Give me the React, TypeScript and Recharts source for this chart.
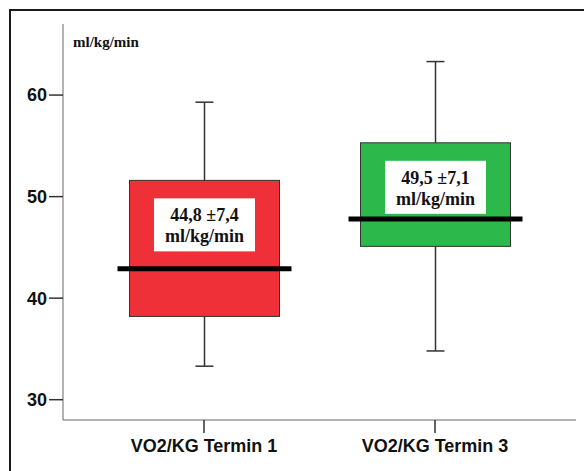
import React from "react";
import { Bar, ComposedChart, XAxis, YAxis } from "recharts";

// values
const categories = ["VO2/KG Termin 1", "VO2/KG Termin 3"];
const whiskerLow = [33.3, 34.8];
const lowerQuartile = [38.2, 45.1];
const medians = [42.9, 47.8];
const upperQuartile = [51.6, 55.3];
const whiskerHigh = [59.3, 63.3];
const meanLabels = ["44,8 ±7,4", "49,5 ±7,1"];
const unitLabel = "ml/kg/min";
const boxColors = ["#EF3039", "#2CB84B"];
const yTicks = [30, 40, 50, 60];

const data = categories.map((name, i) => ({
  name,
  box: [lowerQuartile[i], upperQuartile[i]],
  low: whiskerLow[i],
  q1: lowerQuartile[i],
  median: medians[i],
  q3: upperQuartile[i],
  high: whiskerHigh[i],
  mean: meanLabels[i],
  color: boxColors[i],
}));

const SANS = "'Liberation Sans', Arial, sans-serif";
const SERIF = "'Liberation Serif', 'Times New Roman', serif";

const BoxShape = (props: any) => {
  const { x, y, width, height, payload } = props;
  const top = Math.min(y, y + height);
  const h = Math.abs(height);
  const perUnit = h / (payload.q3 - payload.q1);
  const yOf = (v: number) => top + (payload.q3 - v) * perUnit;
  const cx = x + width / 2;
  const cap = 9;
  const labelW = 101;
  const labelTop = top + 18;

  return (
    <g>
      <line x1={cx} x2={cx} y1={yOf(payload.high)} y2={yOf(payload.low)} stroke="#333" strokeWidth={1.5} />
      <line x1={cx - cap} x2={cx + cap} y1={yOf(payload.high)} y2={yOf(payload.high)} stroke="#333" strokeWidth={1.5} />
      <line x1={cx - cap} x2={cx + cap} y1={yOf(payload.low)} y2={yOf(payload.low)} stroke="#333" strokeWidth={1.5} />
      <rect x={x} y={top} width={width} height={h} fill={payload.color} stroke="#333" strokeWidth={1} />
      <rect x={cx - labelW / 2} y={labelTop} width={labelW} height={53} fill="#fff" />
      <text x={cx} y={labelTop + 23} textAnchor="middle" fontFamily={SERIF} fontWeight="bold" fontSize={18} fill="#111">
        {payload.mean}
      </text>
      <text x={cx} y={labelTop + 44} textAnchor="middle" fontFamily={SERIF} fontWeight="bold" fontSize={18} fill="#111">
        {unitLabel}
      </text>
      <line x1={x - 12} x2={x + width + 12} y1={yOf(payload.median)} y2={yOf(payload.median)} stroke="#000" strokeWidth={5} />
    </g>
  );
};

export default function App() {
  return (
    <div style={{ position: "fixed", left: 0, top: 0, width: 584, height: 471, overflow: "hidden", background: "#fff" }}>
      <div
        style={{
          position: "absolute",
          left: 9,
          top: 9,
          width: 640,
          height: 520,
          borderLeft: "2px solid #1a1a1a",
          borderTop: "2px solid #1a1a1a",
        }}
      />
      <div
        style={{
          position: "absolute",
          left: 73,
          top: 33,
          fontFamily: SERIF,
          fontWeight: "bold",
          fontSize: 15,
          color: "#111",
          lineHeight: "18px",
        }}
      >
        {unitLabel}
      </div>
      <div style={{ position: "absolute", left: 0, top: 0 }}>
        <ComposedChart width={584} height={471} data={data} margin={{ top: 24, right: 8, left: 13, bottom: 11 }}>
          <XAxis
            dataKey="name"
            height={40}
            padding={{ left: 25.5, right: 25.5 }}
            tickSize={13}
            tickMargin={6}
            axisLine={{ stroke: "#666", strokeWidth: 1 }}
            tickLine={{ stroke: "#333", strokeWidth: 1.5 }}
            tick={{ fill: "#111", fontSize: 18, fontWeight: "bold", fontFamily: SANS }}
          />
          <XAxis xAxisId="top" dataKey="name" orientation="top" height={0} tick={false} tickLine={false} axisLine={{ stroke: "#666", strokeWidth: 1 }} />
          <YAxis
            type="number"
            domain={[28, 67]}
            ticks={yTicks}
            width={50}
            tickSize={14}
            tickMargin={2}
            axisLine={{ stroke: "#666", strokeWidth: 1 }}
            tickLine={{ stroke: "#333", strokeWidth: 1.5 }}
            tick={{ fill: "#111", fontSize: 18, fontWeight: "bold", fontFamily: SANS }}
          />
          <YAxis yAxisId="right" orientation="right" type="number" domain={[28, 67]} width={0} tick={false} tickLine={false} axisLine={{ stroke: "#666", strokeWidth: 1 }} />
          <Bar dataKey="box" barSize={150} shape={BoxShape} isAnimationActive={false} />
        </ComposedChart>
      </div>
    </div>
  );
}
